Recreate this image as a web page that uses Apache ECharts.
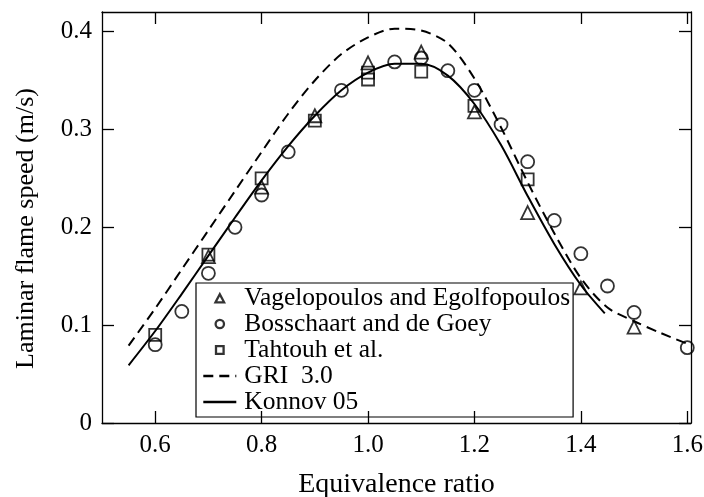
<!DOCTYPE html>
<html>
<head>
<meta charset="utf-8">
<script src="https://cdn.jsdelivr.net/npm/echarts@6/dist/echarts.min.js"></script>
<style>
  html, body { margin: 0; padding: 0; background: #fff; }
  #chart { width: 704px; height: 497px; }
</style>
</head>
<body>
<div id="chart"></div>
<script>
// Tick positions on both axes
const xTicks = [0.6, 0.8, 1.0, 1.2, 1.4, 1.6];
const yTicks = [0, 0.1, 0.2, 0.3, 0.4];

// Measured laminar flame speeds [equivalence ratio, m/s]
const vagelopoulos = [
  [0.7, 0.170], [0.8, 0.241], [0.9, 0.314], [1.0, 0.368], [1.1, 0.379],
  [1.2, 0.318], [1.3, 0.215], [1.4, 0.138], [1.5, 0.098]
];
const bosschaart = [
  [0.6, 0.080], [0.65, 0.114], [0.7, 0.153], [0.75, 0.200], [0.8, 0.233],
  [0.85, 0.277], [0.95, 0.340], [1.05, 0.369], [1.1, 0.373], [1.15, 0.360],
  [1.2, 0.340], [1.25, 0.305], [1.3, 0.267], [1.35, 0.207], [1.4, 0.173],
  [1.45, 0.140], [1.5, 0.113], [1.6, 0.077]
];
const tahtouh = [
  [0.6, 0.090], [0.7, 0.172], [0.8, 0.250], [0.9, 0.309], [1.0, 0.358],
  [1.0, 0.351], [1.1, 0.359], [1.2, 0.324], [1.3, 0.249]
];

// Computed flame speeds from the two kinetic mechanisms
const gri30 = [
  [0.55, 0.079], [0.60, 0.117], [0.65, 0.157], [0.70, 0.197], [0.75, 0.237],
  [0.80, 0.277], [0.85, 0.316], [0.90, 0.350], [0.95, 0.377], [1.00, 0.394],
  [1.05, 0.403], [1.10, 0.401], [1.15, 0.388], [1.20, 0.352], [1.25, 0.302],
  [1.30, 0.246], [1.35, 0.194], [1.40, 0.148], [1.45, 0.118], [1.50, 0.104],
  [1.55, 0.092], [1.60, 0.081]
];
const konnov05 = [
  [0.55, 0.059], [0.60, 0.094], [0.65, 0.132], [0.70, 0.171], [0.75, 0.210],
  [0.80, 0.248], [0.85, 0.283], [0.90, 0.314], [0.95, 0.340], [1.00, 0.358],
  [1.05, 0.367], [1.10, 0.367], [1.15, 0.355], [1.20, 0.326], [1.25, 0.284],
  [1.30, 0.232], [1.35, 0.183], [1.40, 0.141], [1.445, 0.112]
];

const FONT = '"Liberation Serif", "DejaVu Serif", serif';
const INK = '#000';

const axisLineStyle = { color: INK, width: 1.3 };
const tickStyle = { color: INK, width: 1.3 };

function xAxisDef(pos, withLabels) {
  return {
    type: 'value', position: pos, min: 0.5, max: 1.607,
    axisLine: { show: true, onZero: false, lineStyle: axisLineStyle },
    axisTick: { show: true, inside: true, length: 12, customValues: xTicks, lineStyle: tickStyle },
    axisLabel: {
      show: withLabels, customValues: xTicks, margin: 10,
      formatter: v => v.toFixed(1),
      color: INK, fontFamily: FONT, fontSize: 25
    },
    splitLine: { show: false },
    name: withLabels ? 'Equivalence ratio' : '',
    nameLocation: 'middle', nameGap: 48,
    nameTextStyle: { color: INK, fontFamily: FONT, fontSize: 28 }
  };
}
function yAxisDef(pos, withLabels) {
  return {
    type: 'value', position: pos, min: 0, max: 0.42,
    axisLine: { show: true, onZero: false, lineStyle: axisLineStyle },
    axisTick: { show: true, inside: true, length: 12, customValues: yTicks, lineStyle: tickStyle },
    axisLabel: {
      show: withLabels, customValues: yTicks, margin: 10,
      formatter: v => (v === 0 ? '0' : v.toFixed(1)),
      color: INK, fontFamily: FONT, fontSize: 25
    },
    splitLine: { show: false },
    name: withLabels ? 'Laminar flame speed (m/s)' : '',
    nameLocation: 'middle', nameGap: 63,
    nameTextStyle: { color: INK, fontFamily: FONT, fontSize: 26, padding: [0, 22, 0, 0] }
  };
}

const hollow = { color: 'rgba(0,0,0,0)', borderColor: INK, borderWidth: 1.8 };
// line series carry no markers, so their legend icon shows only the stroke
const noMarker = { color: 'rgba(0,0,0,0)', borderWidth: 0, opacity: 0 };

// Legend marker shapes drawn inside a 33x10 frame so they keep their proportions
const FRAME = 'M0 0 L0 0 M33 10 L33 10 ';
const legendTriangle = 'path://' + FRAME + 'M12.2 9.3 L16.5 1.2 L20.8 9.3 Z';
const legendCircle = 'path://' + FRAME + 'M12.3 5 A4.2 4.2 0 1 1 20.7 5 A4.2 4.2 0 1 1 12.3 5 Z';
const legendSquare = 'path://' + FRAME + 'M12.7 1.2 L20.3 1.2 L20.3 8.8 L12.7 8.8 Z';
const legendMarkStyle = { color: 'rgba(0,0,0,0)', borderColor: INK, borderWidth: 2.3 };

const chart = echarts.init(document.getElementById('chart'), null, { renderer: 'canvas' });
chart.setOption({
  animation: false,
  backgroundColor: '#fff',
  grid: { left: 102, top: 12, right: 13, bottom: 74, containLabel: false, outerBoundsMode: 'none' },
  xAxis: [xAxisDef('bottom', true), xAxisDef('top', false)],
  yAxis: [yAxisDef('left', true), yAxisDef('right', false)],
  legend: {
    orient: 'vertical', left: 196, top: 283,
    padding: [2, 3, 2, 6], itemGap: 0,
    itemWidth: 33, itemHeight: 10,
    borderColor: INK, borderWidth: 1.2,
    textStyle: { color: INK, fontFamily: FONT, fontSize: 25.5, padding: [0, 0, 0, 3] },
    data: [
      { name: 'Vagelopoulos and Egolfopoulos', icon: legendTriangle, itemStyle: legendMarkStyle },
      { name: 'Bosschaart and de Goey', icon: legendCircle, itemStyle: legendMarkStyle },
      { name: 'Tahtouh et al.', icon: legendSquare, itemStyle: legendMarkStyle },
      { name: 'GRI  3.0', lineStyle: { width: 2.6 } },
      { name: 'Konnov 05', lineStyle: { width: 2.6 } }
    ]
  },
  series: [
    {
      name: 'GRI  3.0', type: 'line', data: gri30, symbol: 'none',
      smooth: 0.3,
      lineStyle: { color: INK, width: 2, type: [10, 6] }, itemStyle: noMarker
    },
    {
      name: 'Konnov 05', type: 'line', data: konnov05, symbol: 'none',
      smooth: 0.3,
      lineStyle: { color: INK, width: 2, type: 'solid' }, itemStyle: noMarker
    },
    {
      name: 'Vagelopoulos and Egolfopoulos', type: 'scatter', data: vagelopoulos,
      symbol: 'triangle', symbolSize: 13, itemStyle: hollow
    },
    {
      name: 'Bosschaart and de Goey', type: 'scatter', data: bosschaart,
      symbol: 'circle', symbolSize: 13, itemStyle: hollow
    },
    {
      name: 'Tahtouh et al.', type: 'scatter', data: tahtouh,
      symbol: 'rect', symbolSize: 12, itemStyle: hollow
    }
  ]
});
</script>
</body>
</html>
